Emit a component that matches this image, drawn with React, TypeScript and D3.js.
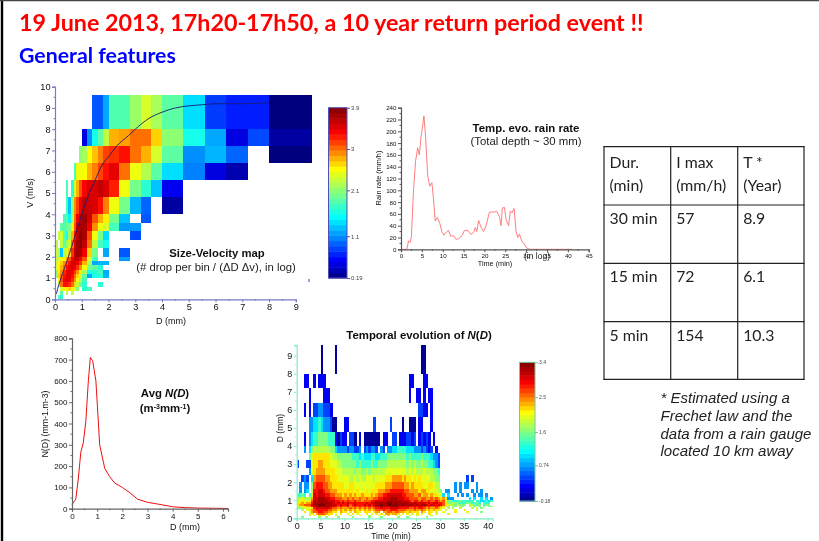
import React, { useEffect, useRef } from "react";
import * as d3 from "d3";

// ---------- Size-velocity map ----------
const _ = null;
const svDiameterEdges = [0,.1,.2,.3,.4,.5,.6,.7,.8,.9,1,1.2,1.4,1.6,1.8,2,2.4,2.8,3.2,3.6,4,4.8,5.6,6.4,7.2,8,9.6];
const svVelocityEdges = [9.6,8,7.2,6.4,5.6,4.8,4,3.6,3.2,2.8,2.4,2,1.8,1.6,1.4,1.2,1,.8,.6,.4,.2,0];
const svLogCounts: (number | null)[][] = [
  [_,_,_,_,_,_,_,_,_,_,_,_,.9,.9,1.2,1.85,1.85,2.15,2.4,2.2,1.9,1.4,.8,.7,.7,.19],
  [_,_,_,_,_,_,_,_,_,_,.5,1.1,1.6,1.9,2.3,2.8,2.85,3,3,2.7,2.1,1.6,1.2,.5,.85,.3],
  [_,_,_,_,_,_,_,_,_,2.1,2.2,2.55,2.75,2.95,3.15,3.2,3.3,3,2.8,2.4,1.9,1.1,1.25,.95,_,.19],
  [_,_,_,_,_,_,_,1.8,2.5,2.5,2.55,2.8,2.95,3.15,3.3,3.45,3,2.5,2.25,1.9,1.4,1.05,.5,.35],
  [_,_,_,_,1.8,_,1.7,2.4,2.8,3.1,3.35,3.5,3.5,3.6,3.5,3.25,2.5,2,1.7,1.3,.55],
  [_,_,_,_,1.8,1.3,2.1,2.9,3.15,3.4,3.6,3.55,3.5,3.3,2.95,2.5,2,1.25,.95,_,.3],
  [_,_,_,1.8,1.9,1.5,2.2,3,3.4,3.65,3.75,3.55,3.1,2.8,2.6,2,1.3,_,.9],
  [_,_,1.9,1.8,2,2,2.6,3.1,3.55,3.75,3.7,3.4,2.9,2.5,2.4,1.8,1.15,1.15],
  [_,2.3,2.4,1.9,1.6,2.2,2.8,3.3,3.65,3.85,3.7,3.1,2.5,2,1.4,_,_,.85],
  [2.3,_,2.3,1.9,2.1,2.4,3,3.5,3.75,3.85,3.6,3,2.3,1.8,1.6],
  [2.4,2.2,1.3,2.3,2.4,2.7,3.2,3.6,3.75,3.7,3.4,2.7,2,_,1.2,_,.9],
  [2.3,2.4,2.5,2.6,2.8,3.1,3.4,3.6,3.6,3.4,3.1,2.4,1.8,_,_,_,1.15],
  [2.4,2.5,2.7,2.9,3.1,3.3,3.5,3.55,3.4,3.2,2.8,2.2,1.2,1.25,1.25],
  [2.5,2.6,2.8,3,3.3,3.4,3.5,3.4,3.2,2.9,2.5,2,1.9,1.7],
  [2.1,2.6,2.9,3.2,3.4,3.45,3.4,3.2,2.9,2.6,2.2,1.6,1.7,1.8,1.2],
  [2.1,2.7,3,3.3,3.45,3.45,3.3,3,2.7,2.4,1.9,1.2,1.6,1.7,1.25],
  [_,2.6,3.1,3.4,3.5,3.4,3.2,2.9,2.5,2.2,1.8],
  [_,2.2,3,3.3,3.3,3.2,3,2.7,2.3,2,1.7,_,_,1.7],
  [_,_,2.4,2.6,2.6,2.7,2.6,2.4,2.1,_,1.7,1.8],
  [_,_,1.9,_,2.2,_,2.3,_,_],
  [_,1.8,1.7],
];
const terminalD = [.05,.1,.2,.5,.75,1,1.25,1.5,1.75,2,2.3,2.75,3,3.5,4,4.5,5,5.5,6,7,8];
const terminalV = [.25,.5,.9,2,3,4,4.9,5.6,6.3,6.7,7.2,7.7,8,8.5,8.8,9,9.1,9.15,9.2,9.2,9.25];
const svXTicks = [0,1,2,3,4,5,6,7,8,9];
const svYTicks = [0,1,2,3,4,5,6,7,8,9,10];

// ---------- Rain rate ----------
const rainTime = [0,1,1.4,1.8,2.2,2.5,3,3.5,4,4.4,4.8,5.2,5.5,5.9,6.4,6.9,7.4,7.8,8.2,8.7,9.3,9.8,10.3,11,11.4,11.9,12.6,13.2,13.8,14.7,15.2,16,16.8,17.5,17.8,18.2,18.6,19.2,19.8,20.4,21.2,22,23,23.6,24,24.3,24.8,25.2,25.8,26.2,26.6,27.1,27.6,28,28.4,29,29.5,30,30.5,31,41];
const rainRate = [0,0,0,14,12,22,100,150,172,160,190,210,226,190,125,107,113,85,48,54,44,30,24,30,32,22,23,17,18,24,32,32,25,30,37,30,49,37,30,40,63,63,64,55,40,70,71,50,40,65,62,69,30,20,26,13,10,3,1,0,0];
const rainXTicks = [0,5,10,15,20,25,30,35,40,45];
const rainYTicks = [0,20,40,60,80,100,120,140,160,180,200,220,240];

// ---------- Average N(D) ----------
const ndDiameter = [0,.15,.25,.35,.45,.55,.65,.73,.82,.95,1.1,1.3,1.5,1.7,2,2.3,2.6,3,3.4,4,4.5,5,6.2];
const ndValue = [20,45,140,265,310,410,600,710,695,600,300,190,150,120,100,75,45,30,22,9,5,3,1];
const ndXTicks = [0,1,2,3,4,5,6];
const ndYTicks = [0,100,200,300,400,500,600,700,800];

// ---------- Temporal evolution of N(D): one row per D class, 0.5 min columns, levels 0-f ----------
const tdDiameterEdges = [9.6,8,7.2,6.4,5.6,4.8,4,3.6,3.2,2.8,2.4,2,1.6,1.4,1.2,1,.9,.8,.7,.6,.5,.4,.3,.2,.1,0];
const tdLevelPositions = [.02,.1,.17,.25,.33,.42,.5,.56,.61,.66,.72,.78,.84,.9,.95,1];
const tdLevels = [
  ".......... 0.....0... .......... .......... .......... ..00......",
  "...11..1.1 11........ .......... .......... .......11. ...11.....",
  ".....1.... .111...... .......... .......... .......1.. 11.1.11...",
  "...1.1.223 32221..... .......... .......... .......... .2211.1...",
  ".....33445 4333200... 11........ ..2......2 ....0..000 .11...1...",
  "...1.34556 6665551021 1.220.1.00 00000.11.. 22.1112212 .12121.1..",
  "...3.46777 7777664333 3233223.23 2332.32.33 4455554443 3323212.1.",
  ".....68999 9999877666 6665554544 4554455566 6666665655 5565554332",
  "2...22899a a999888776 6666656555 5655666677 7777776767 6676655432",
  ".....389aa aa99998887 7777677667 6777777888 8888887878 7778777665",
  "..232.4abb bbaa999888 8877878778 8878888999 aaaa9a9989 8988887766 .......... .2.2......",
  ".3.33.6bcc cbbaa99999 8899888888 8889999aaa bbbbbaa9a9 9998899877 ......3.3. 33...3....",
  ".3.34.7ccd dcbbaaa999 9999898889 8999aaabbc cccccbbaaa a9aa998887 6.33..3.3. ...3.3.3..",
  "5565.59dcd ddccbbaaa9 a9a9a99a99 9a9abbccdd ddddccbbba ab9aa9a998 84.4...3.3 .3..3.33.3",
  "778777adde eeddccbbba ababaabaab aabbccddde eedddccbbb babbaababa 9a9333.... ..4.4..4.4 .3",
  "889889bede eeedddccbc bcbbcbbabb bccdddddee eeeedddcbc cbcbbcbbcb ab76655565 5555.55445 45",
  "99a9aaceee feeeedcdcd cdccdccccd cddeeeeeff efeeeeedde ddddcdcddc cb96676655 5665565.55 5.",
  "9aabbbdeef ffeeeddcdc cdbcdcccdc dcdeefeeff ffeefeeeed edeedcddcd cb98776766 6.77656.56 6.",
  "7899aacdee eeeeddcbcb bcabcbcbcb cbcddeedde eeedddddcd cddcbcbbcb a976.66.76 ..7.6.6.6. 66",
  "6678889cdd ddddcbbaba aababababa babccdcccd dddccccbbc bccbabaaba 98.7.7..7. ...7.8.6..",
  "..7.89abcc cccbbaa9a9 a9a9a9a9a9 a9abbbcbbc ccbbbbaaab aaba9a9a99 8.7...8... 9....7....",
  "...9.8abbc cbbaa99.a9 9.9.a98.99 9.9aa.aabb abbaa99a99 9.a9.99.9. .8....9... .8.....6..",
  ".....89.ab bba99.8.9. .8.9.8...9 .8.9.9.aa9 aa9.8.9.8. 9.8..9..8. ...9......",
  ".....7.8.9 98.8..7... ..7...8... 7...8.8.9. .8.8...7.. 7.....7...",
  "..6......6 ..6....6.. ...6...... 6....6.... ..6...6... ....6.....",
];
const tdXTicks = [0,5,10,15,20,25,30,35,40];
const tdYTicks = [0,1,2,3,4,5,6,7,8,9];

// ---------- Legends ----------
const sizeLegendTicks = [0.19,1.1,2.1,3,3.9];
const timeLegendTicks = [-0.18,0.74,1.6,2.5,3.4];

// ---------- Table ----------
const tableHeaders = [["Dur.","(min)"],["I max","(mm/h)"],["T *","(Year)"]];
const tableRows = [["30 min","57","8.9"],["15 min","72","6.1"],["5 min","154","10.3"]];
const noteLines = ["* Estimated using a","Frechet law and the","data from a rain gauge","located 10 km away"];

const jet = d3.scaleLinear<string>()
  .domain([0,.11,.23,.36,.5,.64,.73,.85,1])
  .range(["#00007f","#0000ff","#0080ff","#00ffff","#80ff80","#ffff00","#ff9000","#ff0000","#7f0000"])
  .clamp(true);

const SANS = "'Liberation Sans', Arial, sans-serif";

function styleAxis(g: any, color: string, size: number) {
  g.selectAll(".domain").attr("stroke", color).attr("stroke-width", 1.2);
  g.selectAll(".tick line").attr("stroke", color).attr("stroke-width", 1);
  g.selectAll("text").attr("font-family", SANS).attr("font-size", size).attr("fill", "#111");
}

function drawAxes(root: any, x: any, y: any, xt: number[], yt: number[], xm: number[], ym: number[], color: string, size: number) {
  const h = y.range()[0];
  const l = x.range()[0];
  const gx = root.append("g").attr("transform", `translate(0,${h})`)
    .call(d3.axisBottom(x).tickValues(xt).tickSize(3).tickPadding(1.5).tickFormat(d3.format("d") as any));
  const gy = root.append("g").attr("transform", `translate(${l},0)`)
    .call(d3.axisLeft(y).tickValues(yt).tickSize(3).tickPadding(1.5).tickFormat(d3.format("d") as any));
  styleAxis(gx, color, size);
  styleAxis(gy, color, size);
  root.append("g").selectAll("line").data(xm).join("line")
    .attr("x1", (d: number) => x(d)).attr("x2", (d: number) => x(d)).attr("y1", h).attr("y2", h + 1.5).attr("stroke", color);
  root.append("g").selectAll("line").data(ym).join("line")
    .attr("y1", (d: number) => y(d)).attr("y2", (d: number) => y(d)).attr("x1", l).attr("x2", l - 1.5).attr("stroke", color);
}

function label(root: any, x: number, y: number, text: string, size: number, opts: any = {}) {
  const t = root.append("text").attr("x", x).attr("y", y).text(text)
    .attr("font-family", opts.family ?? SANS).attr("font-size", size)
    .attr("font-weight", opts.weight ?? "normal").attr("font-style", opts.style ?? "normal")
    .attr("fill", opts.fill ?? "#111").attr("text-anchor", opts.anchor ?? "middle");
  if (opts.rotate) t.attr("transform", `rotate(-90 ${x} ${y})`);
  return t;
}

function halfSteps(lo: number, hi: number, step: number) {
  return d3.range(lo, hi + step / 2, step);
}

function colorBar(root: any, x0: number, x1: number, y0: number, y1: number, ticks: number[], border: string, size: number) {
  const steps = 32;
  const bar = d3.scaleLinear().domain([0, steps]).range([y0, y1]);
  root.append("g").selectAll("rect").data(d3.range(steps)).join("rect")
    .attr("x", x0).attr("width", x1 - x0).attr("y", (d: number) => bar(d + 1)).attr("height", (y0 - y1) / steps + .5)
    .attr("fill", (d: number) => jet((d + .5) / steps));
  root.append("rect").attr("x", x0).attr("y", y1).attr("width", x1 - x0).attr("height", y0 - y1)
    .attr("fill", "none").attr("stroke", border).attr("stroke-width", 1);
  const scale = d3.scaleLinear().domain([ticks[0], ticks[ticks.length - 1]]).range([y0, y1]);
  const ax = root.append("g").attr("transform", `translate(${x1},0)`)
    .call(d3.axisRight(scale).tickValues(ticks).tickSize(3).tickPadding(1).tickFormat((d: any) => String(d)));
  ax.select(".domain").remove();
  ax.selectAll("line").attr("stroke", border);
  ax.selectAll("text").attr("font-family", SANS).attr("font-size", size).attr("fill", "#444");
}

export default function App() {
  const ref = useRef<SVGSVGElement>(null);
  useEffect(() => {
    const svg = d3.select(ref.current);
    svg.selectAll("*").remove();
    const defs = svg.append("defs");
    defs.append("filter").attr("id", "soft").attr("x", 0).attr("y", 0).attr("width", "100%").attr("height", "100%")
      .append("feGaussianBlur").attr("stdDeviation", 0.45);
    const root = svg.append("g").attr("filter", "url(#soft)");
    root.append("rect").attr("width", 819).attr("height", 541).attr("fill", "#fff");

    // Slide frame
    root.append("line").attr("x1", 2).attr("x2", 2).attr("y1", 0).attr("y2", 541).attr("stroke", "#000").attr("stroke-width", 2.4);
    root.append("line").attr("x1", 0).attr("x2", 819).attr("y1", 0.6).attr("y2", 0.6).attr("stroke", "#444").attr("stroke-width", 1.4);

    // Slide header
    label(root, 19, 31, "19 June 2013, 17h20-17h50, a 10 year return period event !!", 23.3, { anchor: "start", weight: 700, fill: "#ff0000", family: "Lato" });
    label(root, 19, 63, "General features", 21.3, { anchor: "start", weight: 700, fill: "#0000ff", family: "Lato" });

    // Size-velocity map
    const sx = d3.scaleLinear().domain([0, 9]).range([55, 295.8]);
    const sy = d3.scaleLinear().domain([0, 10]).range([299.3, 86.7]);
    const svColor = d3.scaleLinear().domain([0.19, 3.9]).range([0, 1]);
    svLogCounts.forEach((row, r) => row.forEach((v, c) => {
      if (v === null || v === undefined) return;
      root.append("rect").attr("x", sx(svDiameterEdges[c])).attr("width", sx(svDiameterEdges[c + 1]) - sx(svDiameterEdges[c]))
        .attr("y", sy(svVelocityEdges[r])).attr("height", sy(svVelocityEdges[r + 1]) - sy(svVelocityEdges[r]))
        .attr("fill", jet(svColor(v))).attr("shape-rendering", "crispEdges");
    }));
    root.append("path").datum(terminalD.map((d, i) => [d, terminalV[i]]))
      .attr("d", d3.line().x((d: any) => sx(d[0])).y((d: any) => sy(d[1])).curve(d3.curveMonotoneX) as any)
      .attr("fill", "none").attr("stroke", "#1a1a70").attr("stroke-width", 0.9);
    drawAxes(root, sx, sy, svXTicks, svYTicks, halfSteps(.5, 8.5, 1), halfSteps(.5, 9.5, 1), "#7878c8", 9.2);
    label(root, 171, 324, "D (mm)", 9);
    label(root, 33, 193, "V (m/s)", 9.2, { rotate: true });
    label(root, 217, 257, "Size-Velocity map", 11.3, { weight: 700 });
    label(root, 216, 271, "(# drop per bin / (\u0394D \u0394v), in log)", 11.3, { fill: "#222" });
    root.append("line").attr("x1", 309).attr("x2", 309).attr("y1", 279).attr("y2", 282).attr("stroke", "#3a3ac0");
    colorBar(root, 328.5, 347, 278, 107.7, sizeLegendTicks, "#5050b8", 6);

    // Rain rate
    const rx = d3.scaleLinear().domain([0, 45]).range([401, 588.7]);
    const ry = d3.scaleLinear().domain([0, 240]).range([249.3, 107.7]);
    root.append("path").datum(rainTime.map((d, i) => [d, rainRate[i]]))
      .attr("d", d3.line().x((d: any) => rx(d[0])).y((d: any) => ry(d[1])) as any)
      .attr("fill", "none").attr("stroke", "#ff7070").attr("stroke-width", 0.9);
    drawAxes(root, rx, ry, rainXTicks, rainYTicks, halfSteps(2.5, 42.5, 5), halfSteps(10, 230, 20), "#555", 6.2);
    label(root, 495, 266, "Time (min)", 7.3);
    label(root, 381, 178, "Rain rate (mm/h)", 7.3, { rotate: true });
    label(root, 526, 132, "Temp. evo. rain rate", 11.4, { weight: 700 });
    label(root, 526, 145, "(Total depth ~ 30 mm)", 11.4, { fill: "#222" });
    label(root, 537, 259, "(in log)", 8.5, { fill: "#222" });

    // Average N(D)
    const nx = d3.scaleLinear().domain([0, 6.2]).range([72, 228]);
    const ny = d3.scaleLinear().domain([0, 800]).range([508.7, 338.3]);
    root.append("path").datum(ndDiameter.map((d, i) => [d, ndValue[i]]))
      .attr("d", d3.line().x((d: any) => nx(d[0])).y((d: any) => ny(d[1])) as any)
      .attr("fill", "none").attr("stroke", "#ee1010").attr("stroke-width", 1);
    drawAxes(root, nx, ny, ndXTicks, ndYTicks, halfSteps(.5, 5.5, 1), halfSteps(50, 750, 100), "#666", 8);
    label(root, 185, 530, "D (mm)", 9);
    label(root, 48, 424, "N(D) (mm-1.m-3)", 8.8, { rotate: true });
    const avg = label(root, 165, 397, "Avg ", 11.4, { weight: 700 });
    avg.append("tspan").attr("font-style", "italic").text("N(");
    avg.append("tspan").attr("font-style", "italic").text("D");
    avg.append("tspan").text(")");
    const unit = label(root, 165, 412, "(m", 11.4, { weight: 700 });
    unit.append("tspan").attr("font-size", 7).attr("dy", -3.5).text("-3");
    unit.append("tspan").attr("dy", 3.5).text("mm");
    unit.append("tspan").attr("font-size", 7).attr("dy", -3.5).text("-1");
    unit.append("tspan").attr("dy", 3.5).text(")");

    // Temporal evolution of N(D)
    const tx = d3.scaleLinear().domain([0, 41]).range([296.7, 492.4]);
    const ty = d3.scaleLinear().domain([0, 9]).range([518.3, 355.7]);
    tdLevels.forEach((text, r) => {
      const cells = text.replace(/ /g, "").split("");
      cells.forEach((ch, c) => {
        if (ch === ".") return;
        root.append("rect").attr("x", tx(c * .5)).attr("width", tx(.5) - tx(0) + .2)
          .attr("y", ty(tdDiameterEdges[r])).attr("height", ty(tdDiameterEdges[r + 1]) - ty(tdDiameterEdges[r]))
          .attr("fill", jet(tdLevelPositions[parseInt(ch, 16)])).attr("shape-rendering", "crispEdges");
      });
    });
    const tyTop = d3.scaleLinear().domain([0, 9.6]).range([518.3, ty(9.6)]);
    drawAxes(root, tx, tyTop, tdXTicks, tdYTicks, halfSteps(2.5, 37.5, 5), halfSteps(.5, 9.5, 1), "#80eec8", 9);
    label(root, 391, 539, "Time (min)", 8.3);
    label(root, 283, 428, "D (mm)", 8.5, { rotate: true });
    const tt = label(root, 419, 339, "Temporal evolution of ", 11.4, { weight: 700 });
    tt.append("tspan").attr("font-style", "italic").text("N");
    tt.append("tspan").text("(");
    tt.append("tspan").attr("font-style", "italic").text("D");
    tt.append("tspan").text(")");
    colorBar(root, 519.5, 535, 501, 362.3, timeLegendTicks, "#70c8a0", 5);

    // Table
    const colEdges = [604, 670.7, 737.7, 804];
    const rowEdges = [146.7, 205, 263.3, 321.7, 379.3];
    rowEdges.forEach((y) => root.append("line").attr("x1", 603.5).attr("x2", 804.5).attr("y1", y).attr("y2", y).attr("stroke", "#222").attr("stroke-width", 1.2));
    colEdges.forEach((x) => root.append("line").attr("x1", x).attr("x2", x).attr("y1", 146).attr("y2", 380).attr("stroke", "#222").attr("stroke-width", 1.2));
    tableHeaders.forEach((lines, c) => lines.forEach((line, i) =>
      label(root, colEdges[c] + 5.5, 167.5 + i * 23.5, line, 15.8, { anchor: "start", family: "Lato", fill: "#222" })));
    tableRows.forEach((row, r) => row.forEach((text, c) =>
      label(root, colEdges[c] + 5.5, 224 + r * 58.3, text, 15.8, { anchor: "start", family: "Lato", fill: "#222" })));
    noteLines.forEach((line, i) =>
      label(root, 660.5, 403 + i * 17.8, line, 15, { anchor: "start", style: "italic", fill: "#222" }));
  }, []);
  return <svg ref={ref} width={819} height={541} style={{ position: "absolute", left: 0, top: 0, display: "block" }} />;
}
